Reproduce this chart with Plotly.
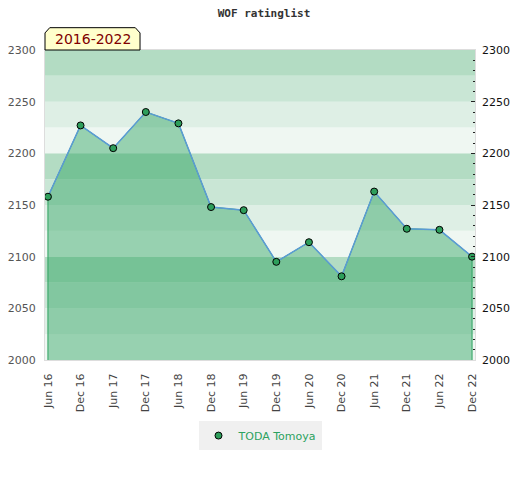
import plotly.graph_objects as go

# half-year rating snapshots
periods = ["Jun 16", "Dec 16", "Jun 17", "Dec 17", "Jun 18", "Dec 18", "Jun 19",
           "Dec 19", "Jun 20", "Dec 20", "Jun 21", "Dec 21", "Jun 22", "Dec 22"]
rating = [2158, 2227, 2205, 2240, 2229, 2148, 2145,
          2095, 2114, 2081, 2163, 2127, 2126, 2100]
player = "TODA Tomoya"
span_label = "2016-2022"
y_min, y_max = 2000, 2300
band_step = 25
band_colors = ["#eff7f2", "#deefe5", "#c9e6d5", "#b3dcc3"]

fig = go.Figure()

# area polygon (green outline) down to the axis floor
fig.add_trace(go.Scatter(
    x=[periods[0]] + periods + [periods[-1]],
    y=[y_min] + rating + [y_min],
    mode="lines", fill="toself",
    fillcolor="rgba(44,162,95,0.45)",
    line=dict(color="#2ca25f", width=1),
    showlegend=False, hoverinfo="skip"))

# rating line
fig.add_trace(go.Scatter(
    x=periods, y=rating, mode="lines",
    line=dict(color="#5b9bd5", width=1.5),
    showlegend=False, hoverinfo="skip"))

# markers (legend entry shows the dot only)
fig.add_trace(go.Scatter(
    x=periods, y=rating, mode="markers", name=player,
    marker=dict(color="#2e9e5b", size=7, line=dict(color="black", width=1))))

# invisible copy so the right axis gets drawn
fig.add_trace(go.Scatter(
    x=periods, y=rating, yaxis="y2", mode="markers",
    marker=dict(opacity=0), showlegend=False, hoverinfo="skip"))

# background bands
shapes = []
y = y_min
while y < y_max:
    shapes.append(dict(type="rect", xref="paper", yref="y", x0=0, x1=1,
                       y0=y, y1=y + band_step, layer="below", line_width=0,
                       fillcolor=band_colors[((y - y_min) // band_step) % 4]))
    y += band_step

# label tab with cut top corners
shapes.append(dict(type="path", xref="paper", yref="paper",
                   path="M 0,1 L 0,1.055 L 0.011,1.072 L 0.21,1.072 L 0.221,1.055 L 0.221,1 Z",
                   fillcolor="#ffffcc", line=dict(color="black", width=1), layer="above"))

# page body adds an 8px margin, so the figure is 8px smaller
fig.update_layout(
    width=512, height=472,
    margin=dict(l=37, r=45, t=42, b=120, autoexpand=False),
    paper_bgcolor="white", plot_bgcolor="white",
    font=dict(family="DejaVu Sans", size=11, color="#444"),
    title=dict(text="<b>WOF ratinglist</b>", x=0.5, xanchor="center",
               y=1 - 5 / 472, yref="container", yanchor="middle",
               font=dict(family="DejaVu Sans Mono", size=11, color="#333")),
    shapes=shapes,
    annotations=[dict(text=span_label, xref="paper", yref="paper",
                      x=0.1105, y=1.036, xanchor="center", yanchor="middle",
                      showarrow=False,
                      font=dict(family="DejaVu Sans", size=14, color="#800000"))],
    xaxis=dict(type="category", categoryorder="array", categoryarray=periods,
               range=[-0.09, len(periods) - 1 + 0.09], automargin=False,
               tickangle=-90, showgrid=False, zeroline=False,
               showline=True, linecolor="#dddddd", mirror=True,
               ticks="", ticklabelstandoff=8,
               tickfont=dict(size=11, color="#444")),
    yaxis=dict(range=[y_min, y_max], dtick=50, showgrid=False, zeroline=False,
               automargin=False,
               showline=True, linecolor="#dddddd", mirror=True,
               ticks="", ticklabelstandoff=6,
               tickfont=dict(size=11, color="#555")),
    yaxis2=dict(range=[y_min, y_max], dtick=50, overlaying="y", side="right",
                automargin=False,
                showgrid=False, zeroline=False, showline=False,
                ticks="inside", ticklen=4, tickcolor="#222",
                minor=dict(dtick=10, ticks="inside", ticklen=2, tickcolor="#222"),
                ticklabelstandoff=6,
                tickfont=dict(size=11, color="#111")),
    legend=dict(orientation="h", x=0.5, xanchor="center", y=-0.197, yanchor="top",
                bgcolor="#f0f0f0", font=dict(size=11, color="#2ca25f")),
)

fig.write_html("out.html")
